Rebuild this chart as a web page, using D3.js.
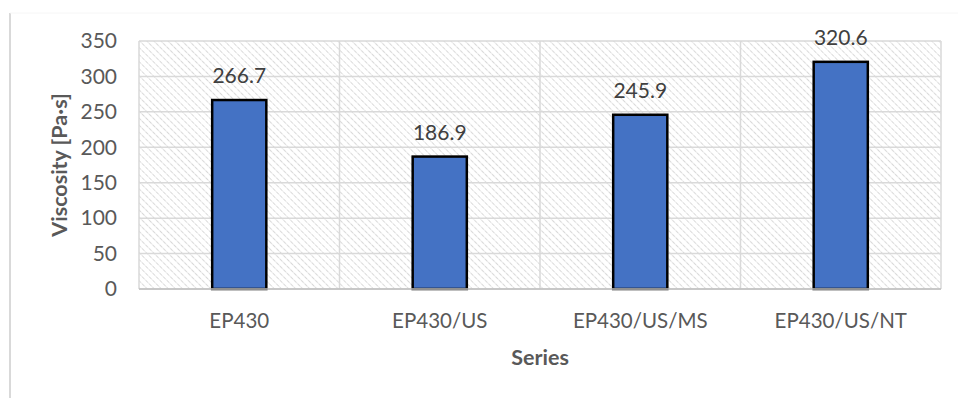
<!DOCTYPE html>
<html>
<head>
<meta charset="utf-8">
<script src="https://cdn.jsdelivr.net/npm/d3@7"></script>
<style>
  body { margin: 0; background: #fff; }
  text { font-family: Lato, "Open Sans", sans-serif; }
</style>
</head>
<body>
<div id="chart"></div>
<script>
const categories = ["EP430", "EP430/US", "EP430/US/MS", "EP430/US/NT"];
const values = [266.7, 186.9, 245.9, 320.6];
const yTicks = [0, 50, 100, 150, 200, 250, 300, 350];

const width = 958, height = 398;
const margin = { top: 41, right: 17, bottom: 109, left: 139 };
const innerW = width - margin.left - margin.right;
const innerH = height - margin.top - margin.bottom;

const svg = d3.select("#chart")
  .append("svg")
  .attr("width", width)
  .attr("height", height);

// hatch for plot background
const defs = svg.append("defs");
const pat = defs.append("pattern")
  .attr("id", "hatch")
  .attr("patternUnits", "userSpaceOnUse")
  .attr("width", 5)
  .attr("height", 5)
  .attr("patternTransform", "rotate(-45)");
pat.append("line")
  .attr("x1", 0).attr("y1", 0).attr("x2", 0).attr("y2", 5)
  .attr("stroke", "#c4c4c4")
  .attr("stroke-width", 1.3)
  .attr("stroke-dasharray", "2.5,1");

// chart frame (left edge line visible in reference)
svg.append("line")
  .attr("x1", 10).attr("x2", 10).attr("y1", 13).attr("y2", height)
  .attr("stroke", "#d9d9d9").attr("stroke-width", 2);
svg.append("line")
  .attr("x1", 10).attr("x2", width).attr("y1", 13).attr("y2", 13)
  .attr("stroke", "#f6f6f6").attr("stroke-width", 1);

const g = svg.append("g").attr("transform", `translate(${margin.left},${margin.top})`);

const x = d3.scaleBand().domain(categories).range([0, innerW]).paddingInner(0).paddingOuter(0);
const y = d3.scaleLinear().domain([0, 350]).range([innerH, 0]);

g.append("rect")
  .attr("width", innerW).attr("height", innerH)
  .attr("fill", "url(#hatch)");

// horizontal gridlines
g.append("g")
  .selectAll("line")
  .data(yTicks)
  .join("line")
  .attr("x1", 0).attr("x2", innerW)
  .attr("y1", d => y(d)).attr("y2", d => y(d))
  .attr("stroke", "#d9d9d9").attr("stroke-width", 1.5);

// vertical gridlines at category boundaries
const bounds = categories.map(c => x(c)).concat([innerW]);
g.append("g")
  .selectAll("line")
  .data(bounds)
  .join("line")
  .attr("x1", d => d).attr("x2", d => d)
  .attr("y1", 0).attr("y2", innerH)
  .attr("stroke", "#d9d9d9").attr("stroke-width", 1.5);

// y axis labels
const yAxis = g.append("g")
  .call(d3.axisLeft(y).tickValues(yTicks).tickSize(0).tickPadding(22));
yAxis.select(".domain").remove();
yAxis.selectAll("text")
  .attr("font-size", 21)
  .attr("fill", "#595959")
  .attr("font-family", "Lato, sans-serif");

// bars
const barW = x.bandwidth() * 0.27;
g.append("g")
  .selectAll("rect")
  .data(values)
  .join("rect")
  .attr("x", (d, i) => x(categories[i]) + x.bandwidth() / 2 - barW / 2)
  .attr("y", d => y(d))
  .attr("width", barW)
  .attr("height", d => innerH - y(d))
  .attr("fill", "#4472C4")
  .attr("stroke", "#000")
  .attr("stroke-width", 2.5);

// x axis line
g.append("line")
  .attr("x1", 0).attr("x2", innerW)
  .attr("y1", innerH).attr("y2", innerH)
  .attr("stroke", "#bfbfbf").attr("stroke-width", 1.5);

// value labels
g.append("g")
  .selectAll("text")
  .data(values)
  .join("text")
  .attr("x", (d, i) => x(categories[i]) + x.bandwidth() / 2)
  .attr("y", d => y(d) - 17)
  .attr("text-anchor", "middle")
  .attr("font-size", 21)
  .attr("fill", "#404040")
  .text(d => d.toFixed(1));

// x axis labels
const xAxis = g.append("g")
  .attr("transform", `translate(0,${innerH})`)
  .call(d3.axisBottom(x).tickSize(0).tickPadding(24));
xAxis.select(".domain").remove();
xAxis.selectAll("text")
  .attr("font-size", 20.5)
  .attr("fill", "#595959")
  .attr("font-family", "Lato, sans-serif");

// axis titles
svg.append("text")
  .attr("x", margin.left + innerW / 2)
  .attr("y", 365)
  .attr("text-anchor", "middle")
  .attr("font-size", 21.5)
  .attr("font-weight", "bold")
  .attr("fill", "#595959")
  .text("Series");

svg.append("text")
  .attr("transform", `translate(67,${margin.top + innerH / 2}) rotate(-90)`)
  .attr("text-anchor", "middle")
  .attr("font-size", 21.5)
  .attr("font-weight", "bold")
  .attr("fill", "#595959")
  .text("Viscosity [Pa·s]");
</script>
</body>
</html>
